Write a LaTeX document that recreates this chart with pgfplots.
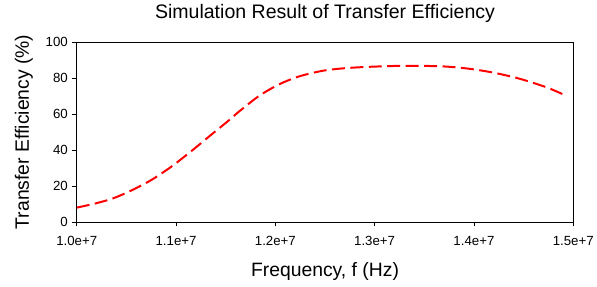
\documentclass[border=0pt]{standalone}
\usepackage{fontspec}
\setmainfont{Liberation Sans}
\usepackage{pgfplots}
\pgfplotsset{compat=1.18}
\begin{document}
\begin{tikzpicture}[x=1pt,y=1pt]
\begin{axis}[
  name=ax,
  scale only axis,
  width=498pt, height=180.5pt,
  xmin=1.0e7, xmax=1.5e7, ymin=0, ymax=100,
  xtick={1.0e7,1.1e7,1.2e7,1.3e7,1.4e7,1.5e7},
  xticklabels={1.0e+7,1.1e+7,1.2e+7,1.3e+7,1.4e+7,1.5e+7},
  scaled x ticks=false,
  ytick={0,20,40,60,80,100},
  xtick pos=bottom, ytick pos=left,
  tick align=outside,
  major tick length=4.5pt,
  tick style={black, line width=0.6pt},
  axis line style={black, line width=0.6pt},
  /pgf/number format/assume math mode=true,
  tick label style={font=\fontsize{13.3}{15}\selectfont},
  xticklabel style={anchor=base, yshift=-19.5pt},
  yticklabel style={xshift=-1pt},
  title={Simulation Result of Transfer Efficiency},
  title style={font=\fontsize{19.6}{22}\selectfont, at={(axis description cs:0.5,1)}, anchor=base, yshift=17.5pt},
  xlabel={Frequency, f (Hz)},
  ylabel={Transfer Efficiency (\%)},
  label style={font=\fontsize{19.4}{22}\selectfont},
  xlabel style={at={(axis description cs:0.5,0)}, anchor=base, yshift=-54.5pt},
  ylabel style={at={(axis description cs:-0.0964,0.5)}, anchor=base},
]
\addplot[red, line width=2pt, dash pattern=on 13pt off 5.5pt, smooth, tension=0.5] coordinates {
(1.000e7,7.9) (1.018e7,10.1) (1.0364e7,13.0) (1.0549e7,17.4) (1.075e7,23.2)
(1.0951e7,30.6) (1.1152e7,39.2) (1.1352e7,48.3) (1.1519e7,55.8) (1.1637e7,61.4)
(1.1837e7,70.0) (1.2038e7,76.4) (1.2239e7,80.8) (1.2473e7,83.9) (1.2708e7,85.4)
(1.2975e7,86.2) (1.3300e7,86.7) (1.3678e7,86.4) (1.3946e7,85.1) (1.4197e7,82.9)
(1.4448e7,79.7) (1.4649e7,76.3) (1.4766e7,74.0) (1.4900e7,70.8)
};
\end{axis}
\path ([xshift=-77pt,yshift=-64.5pt]ax.south west) rectangle ([xshift=22pt,yshift=42pt]ax.north east);
\end{tikzpicture}
\end{document}
